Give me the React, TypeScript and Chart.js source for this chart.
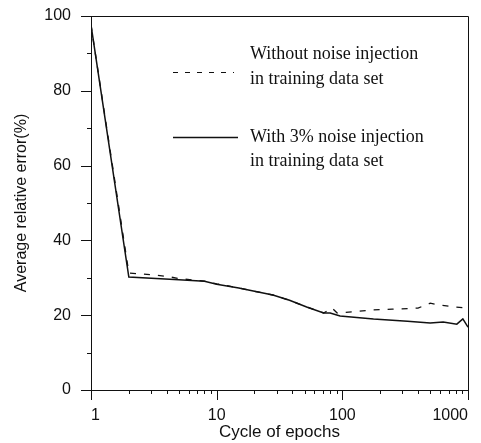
import React, { useEffect, useRef } from "react";
import { Chart, registerables } from "chart.js";

Chart.register(...registerables);

// ---- data ----
const withoutNoiseX = [1, 2, 3, 4, 5, 8, 10, 15, 20, 28, 38, 52, 71, 83, 91, 130, 177, 250, 400, 500, 600, 800, 1000];
const withoutNoiseY = [97.6, 31.3, 30.8, 30.4, 29.8, 29.1, 28.4, 27.3, 26.4, 25.4, 24.0, 22.2, 20.6, 21.9, 20.6, 21.0, 21.4, 21.6, 21.9, 23.2, 22.7, 22.2, 21.9];

const withNoiseX = [1, 2, 5, 8, 10, 15, 20, 28, 38, 52, 71, 80, 96, 177, 330, 500, 635, 815, 910, 1000];
const withNoiseY = [97.6, 30.2, 29.5, 29.1, 28.3, 27.3, 26.4, 25.4, 24.0, 22.2, 20.6, 20.6, 19.8, 19.0, 18.4, 17.9, 18.2, 17.6, 19.0, 16.8];

const xTickValues = [1, 2, 3, 4, 5, 6, 7, 8, 9, 10, 20, 30, 40, 50, 60, 70, 80, 90, 100, 200, 300, 400, 500, 600, 700, 800, 900, 1000];
const xMajorTicks = [1, 10, 100, 1000];
const yTickValues = [0, 10, 20, 30, 40, 50, 60, 70, 80, 90, 100];
const yMajorTicks = [0, 20, 40, 60, 80, 100];

const seriesLabels = ["Without noise injection in training data set", "With 3% noise injection in training data set"];
const legendTextLines = [
  ["Without noise injection", "in training data set"],
  ["With 3% noise injection", "in training data set"],
];

const xTitle = "Cycle of epochs";
const yTitle = "Average relative error(%)";

const INK = "#111111";
const SANS = '"Liberation Sans", Arial, sans-serif';

const framePlugin = {
  id: "frameAndTicks",
  afterDraw(chart: any) {
    const { ctx, chartArea } = chart;
    const { left, right, top, bottom } = chartArea;
    const xs = chart.scales.x;
    const ys = chart.scales.y;
    ctx.save();
    ctx.strokeStyle = INK;
    ctx.lineWidth = 1;
    ctx.beginPath();
    // frame
    ctx.moveTo(left - 10, top + 0.5);
    ctx.lineTo(right + 0.5, top + 0.5);
    ctx.lineTo(right + 0.5, bottom + 0.5);
    ctx.moveTo(left - 10, bottom + 0.5);
    ctx.lineTo(right + 0.5, bottom + 0.5);
    ctx.moveTo(left + 0.5, top);
    ctx.lineTo(left + 0.5, bottom + 10);
    // y ticks
    yTickValues.forEach((v) => {
      const py = Math.round(ys.getPixelForValue(v)) + 0.5;
      const len = yMajorTicks.includes(v) ? 10 : 4;
      ctx.moveTo(left - len, py);
      ctx.lineTo(left, py);
    });
    // x ticks
    xTickValues.forEach((v) => {
      const px = Math.round(xs.getPixelForValue(v)) + 0.5;
      const len = xMajorTicks.includes(v) ? 10 : 4;
      ctx.moveTo(px, bottom);
      ctx.lineTo(px, bottom + len);
    });
    ctx.stroke();

    // legend
    ctx.fillStyle = INK;
    ctx.font = '18px "Liberation Serif", "Times New Roman", serif';
    ctx.textBaseline = "alphabetic";
    ctx.textAlign = "left";
    const textX = 250;
    const baselines = [[59, 84], [142, 166]];
    legendTextLines.forEach((lines, i) => {
      lines.forEach((t, j) => ctx.fillText(t, textX, baselines[i][j]));
    });
    // legend samples
    ctx.lineWidth = 1.2;
    ctx.setLineDash([5, 7]);
    ctx.beginPath();
    ctx.moveTo(173, 72.5);
    ctx.lineTo(234, 72.5);
    ctx.stroke();
    ctx.setLineDash([]);
    ctx.lineWidth = 1.5;
    ctx.beginPath();
    ctx.moveTo(173, 137.5);
    ctx.lineTo(238, 137.5);
    ctx.stroke();
    ctx.restore();
  },
};

export default function App() {
  const canvasRef = useRef<HTMLCanvasElement | null>(null);

  useEffect(() => {
    const canvas = canvasRef.current;
    if (!canvas) return;
    const chart = new Chart(canvas, {
      type: "line",
      data: {
        datasets: [
          {
            label: seriesLabels[0],
            data: withoutNoiseX.map((x, i) => ({ x, y: withoutNoiseY[i] })),
            borderColor: INK,
            borderWidth: 1.3,
            borderDash: [6, 8],
            pointRadius: 0,
            tension: 0,
            fill: false,
          },
          {
            label: seriesLabels[1],
            data: withNoiseX.map((x, i) => ({ x, y: withNoiseY[i] })),
            borderColor: INK,
            borderWidth: 1.5,
            pointRadius: 0,
            tension: 0,
            fill: false,
          },
        ],
      },
      options: {
        responsive: false,
        animation: false,
        layout: { padding: { top: 16, right: 13, left: 0, bottom: 0 } },
        plugins: {
          legend: { display: false },
          tooltip: { enabled: false },
        },
        scales: {
          x: {
            type: "logarithmic",
            min: 1,
            max: 1000,
            border: { display: false },
            grid: { display: false, drawTicks: false },
            afterBuildTicks: (scale: any) => {
              scale.ticks = xTickValues.map((v) => ({ value: v, major: xMajorTicks.includes(v) }));
            },
            afterFit: (scale: any) => {
              scale.height = 53;
              scale.paddingLeft = 0;
              scale.paddingRight = 0;
            },
            ticks: {
              autoSkip: false,
              maxRotation: 0,
              minRotation: 0,
              padding: 16,
              align: "inner",
              color: INK,
              font: { family: SANS, size: 16 },
              callback: (v: any) => (xMajorTicks.includes(Number(v)) ? String(v) : ""),
            },
            title: {
              display: true,
              text: xTitle,
              color: INK,
              font: { family: SANS, size: 17 },
              padding: { top: 0, bottom: 0 },
            },
          },
          y: {
            type: "linear",
            min: 0,
            max: 100,
            border: { display: false },
            grid: { display: false, drawTicks: false },
            afterBuildTicks: (scale: any) => {
              scale.ticks = yMajorTicks.map((v) => ({ value: v }));
            },
            afterFit: (scale: any) => {
              scale.width = 91;
              scale.paddingTop = 0;
              scale.paddingBottom = 0;
            },
            ticks: {
              padding: 20,
              color: INK,
              font: { family: SANS, size: 16 },
            },
            title: {
              display: true,
              text: yTitle,
              color: INK,
              font: { family: SANS, size: 16 },
              padding: { top: 12, bottom: 0 },
            },
          },
        },
      },
      plugins: [framePlugin],
    } as any);
    return () => chart.destroy();
  }, []);

  return (
    <div style={{ position: "absolute", left: 0, top: 0, width: 481, height: 443, background: "#fff" }}>
      <canvas ref={canvasRef} width={481} height={443} style={{ display: "block" }} />
    </div>
  );
}
